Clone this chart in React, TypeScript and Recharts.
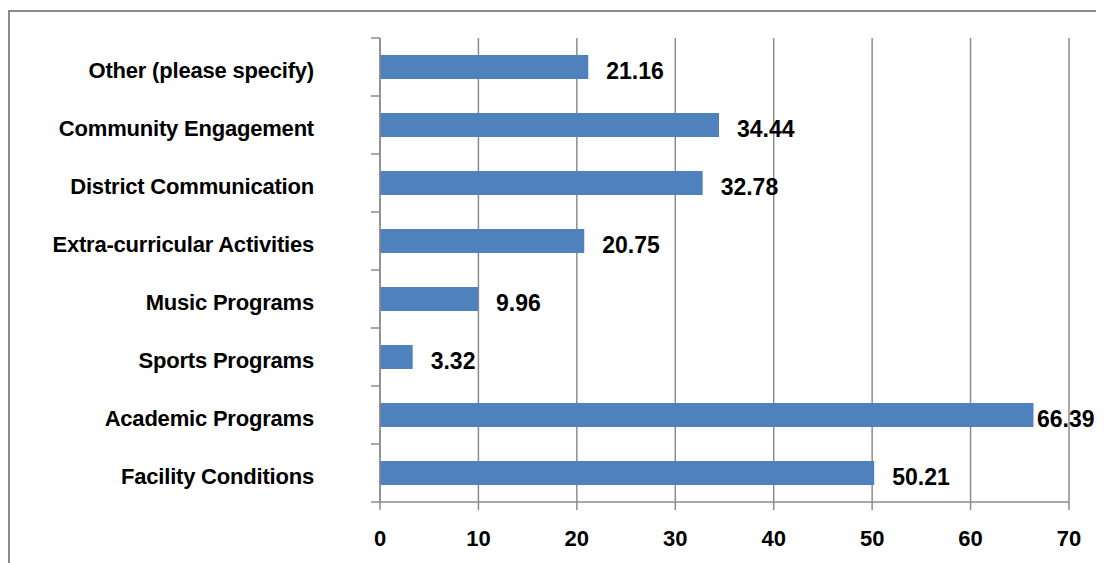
import React from "react";
import { BarChart, Bar, XAxis, YAxis, CartesianGrid, LabelList } from "recharts";

const categories = [
  "Other (please specify)",
  "Community Engagement",
  "District Communication",
  "Extra-curricular Activities",
  "Music Programs",
  "Sports Programs",
  "Academic Programs",
  "Facility Conditions",
];
const values = [21.16, 34.44, 32.78, 20.75, 9.96, 3.32, 66.39, 50.21];
const xTicks = [0, 10, 20, 30, 40, 50, 60, 70];

const data = categories.map((c, i) => ({ name: c, value: values[i] }));

const FONT = "'Liberation Sans', Arial, sans-serif";
const GRID = "#8c8c8c";

const YTick = (props: any) => {
  const { x, y, payload, index } = props;
  const off = payload && payload.offset ? payload.offset : 0;
  const last = index === categories.length - 1;
  return (
    <g>
      <line x1={x - 9} x2={x} y1={y - off} y2={y - off} stroke={GRID} strokeWidth={1.5} />
      {last && <line x1={x - 9} x2={x} y1={y + off} y2={y + off} stroke={GRID} strokeWidth={1.5} />}
      <text
        x={x - 66}
        y={y + 3}
        dy="0.35em"
        textAnchor="end"
        fontFamily={FONT}
        fontWeight="bold"
        fontSize={22}
        fill="#000"
        letterSpacing={-0.2}
      >
        {payload.value}
      </text>
    </g>
  );
};

const ValueLabel = (props: any) => {
  const { x, y, width, height, value } = props;
  const lx = Math.min(x + width + 18, 1027);
  return (
    <text
      x={lx}
      y={y + height / 2 + 4}
      dy="0.35em"
      textAnchor="start"
      fontFamily={FONT}
      fontWeight="bold"
      fontSize={23}
      fill="#000"
    >
      {value}
    </text>
  );
};

export default function App() {
  return (
    <div
      style={{
        marginTop: 2,
        borderLeft: "2px solid #8a8a8a",
        borderTop: "2px solid #8a8a8a",
        width: 1094,
        height: 551,
        background: "#fff",
      }}
    >
      <BarChart
        width={1094}
        height={551}
        data={data}
        layout="vertical"
        margin={{ top: 26, right: 35, bottom: 0, left: 0 }}
        barSize={24}
      >
        <CartesianGrid horizontal={false} stroke={GRID} strokeWidth={1.5} />
        <XAxis
          type="number"
          domain={[0, 70]}
          ticks={xTicks}
          interval={0}
          height={61}
          tickSize={8}
          tickMargin={20}
          axisLine={{ stroke: GRID, strokeWidth: 1.5 }}
          tickLine={{ stroke: GRID, strokeWidth: 1.5 }}
          tick={{ fontFamily: FONT, fontWeight: "bold", fontSize: 22, fill: "#000" }}
        />
        <YAxis
          type="category"
          dataKey="name"
          width={370}
          tickSize={0}
          tickMargin={0}
          tickLine={false}
          interval={0}
          axisLine={{ stroke: GRID, strokeWidth: 1.5 }}
          tick={<YTick />}
        />
        <Bar dataKey="value" fill="#4F81BD" isAnimationActive={false}>
          <LabelList dataKey="value" content={<ValueLabel />} />
        </Bar>
      </BarChart>
    </div>
  );
}
